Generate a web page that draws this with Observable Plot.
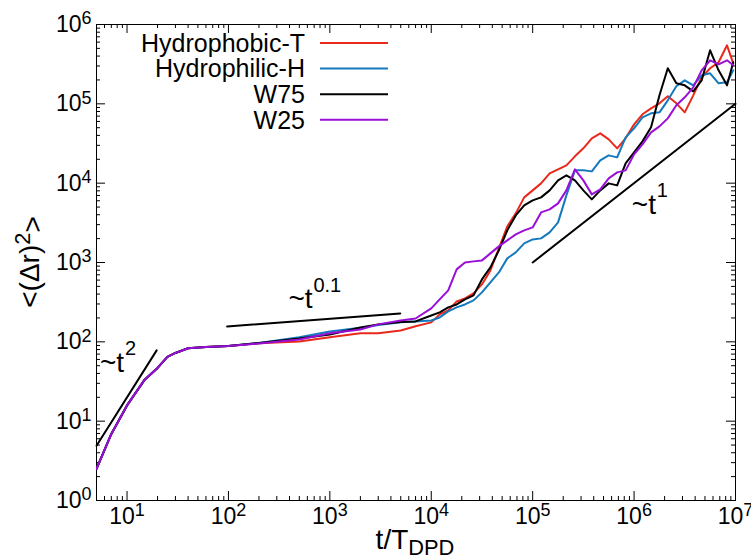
<!DOCTYPE html>
<html><head><meta charset="utf-8">
<script src="https://cdn.jsdelivr.net/npm/d3@7"></script>
<script src="https://cdn.jsdelivr.net/npm/@observablehq/plot@0.6"></script>
<style>
body{margin:0;background:#fff;font-family:"Liberation Sans",Arial,sans-serif;}
#chart{width:751px;height:559px;}
</style></head><body><div id="chart"></div>
<script>
// time values t/T_DPD
const time = [5, 7, 10, 15, 20, 25, 30, 40, 60, 100, 200, 500, 1000, 2000, 3000, 5000, 7000,
  10000, 12100, 14700, 17800, 21500, 26100, 31600, 38300, 46400, 56200, 68100, 82500,
  100000, 121000, 147000, 178000, 215000, 261000, 316000, 383000, 464000, 562000, 681000, 825000,
  1000000, 1210000, 1470000, 1780000, 2150000, 2610000, 3160000, 3830000, 4640000, 5620000, 6810000, 8250000, 9500000];

const hydrophobicT = [2.5, 6.9, 15.8, 33.6, 46.9, 64.5, 72.4, 83, 86, 88.8, 96, 101, 114, 128, 128, 139, 157,
  176, 222, 249, 323, 352, 408, 529, 795, 1507, 2851, 4160, 6620,
  8110, 9940, 13300, 14930, 16770, 21780, 27480, 36730, 42460, 35660, 27480, 36730,
  55100, 73800, 87800, 101500, 124400, 101500, 78100, 128000, 215900, 280500, 333700, 546600, 324200];

const hydrophilicH = [2.5, 6.9, 15.8, 33.6, 46.9, 64.5, 72.4, 83, 86, 88.8, 97, 114, 135, 150, 163, 176, 181,
  186, 203, 242, 272, 296, 333, 420, 561, 750, 1127, 1341, 1741,
  1955, 2014, 2398, 3205, 7020, 14500, 14500, 14080, 19400, 22420, 21150, 37770,
  49100, 67600, 75900, 78100, 110700, 166300, 197800, 171100, 228700, 242500, 181300, 186700, 264300];

const w75 = [2.5, 6.9, 15.8, 33.6, 46.9, 64.5, 72.4, 83, 86, 88.8, 97, 110, 124, 152, 166, 178, 181,
  215, 235, 272, 296, 343, 385, 612, 867, 1422, 2540, 3925, 5250,
  6070, 6620, 8110, 10840, 12540, 10840, 8110, 6250, 8110, 9940, 9380, 17780,
  24450, 33650, 50600, 128000, 280500, 181300, 171100, 143800, 197800, 473000, 264300, 171100, 333700];

const w25 = [2.5, 6.9, 15.8, 33.6, 46.9, 64.5, 72.4, 83, 86, 88.8, 95.5, 107, 128, 143, 166, 186, 197,
  264, 343, 445, 819, 1000, 1033, 1063, 1303, 1596, 1900, 2260, 2540,
  2770, 4280, 4670, 5560, 8110, 14930, 10840, 7220, 8350, 11500, 13680, 14500,
  23070, 30850, 43700, 52000, 65600, 95800, 120800, 161400, 264300, 353700, 315000, 353700, 305700];

const seriesNames = ["Hydrophobic-T", "Hydrophilic-H", "W75", "W25"];
const seriesColors = ["#e8291c", "#1479bd", "#000000", "#9a0fd8"];
const seriesValues = [hydrophobicT, hydrophilicH, w75, w25];

// power-law guide segments (start/end)
const guideT = [[5, 19.6], [97, 4940], [100000, 10000000]];
const guideMSD = [[4.9, 78], [156, 228], [1000, 100000]];
const guideExponent = ["2", "0.1", "1"];
const guideLabelT = [5.4, 390, 950000];
const guideLabelMSD = [54, 345, 5300];

const xMajor = [10, 100, 1000, 10000, 100000, 1000000, 10000000];
const xTickLabels = ["10^1", "10^2", "10^3", "10^4", "10^5", "10^6", "10^7"];
const yMajor = [1, 10, 100, 1000, 10000, 100000, 1000000];
const yTickLabels = ["10^0", "10^1", "10^2", "10^3", "10^4", "10^5", "10^6"];

// minor log ticks
const xMinor = [], yMinor = [];
for (let e = 0; e <= 6; e++) for (let m = 2; m <= 9; m++) {
  const v = m * Math.pow(10, e);
  if (v >= 5 && v <= 1e7) xMinor.push(v);
  if (e <= 5) yMinor.push(v);
}

const rows = [];
seriesNames.forEach((name, i) => {
  time.forEach((t, j) => rows.push({t, msd: seriesValues[i][j], series: name}));
});
const guides = [];
guideT.forEach((ts, i) => {
  guides.push({t: ts[0], msd: guideMSD[i][0], g: i});
  guides.push({t: ts[1], msd: guideMSD[i][1], g: i});
});
const guideLabels = guideExponent.map((e, i) => ({t: guideLabelT[i], msd: guideLabelMSD[i], e}));

const W = 751, H = 559, mL = 96, mR = 16, mT = 24, mB = 59;
const pw = W - mL - mR, ph = H - mT - mB;

const plot = Plot.plot({
  width: W, height: H,
  marginLeft: mL, marginRight: mR, marginTop: mT, marginBottom: mB,
  style: {fontFamily: "'Liberation Sans', Arial, sans-serif", background: "#fff", color: "#000"},
  x: {type: "log", domain: [5, 1e7]},
  y: {type: "log", domain: [1, 1e6]},
  color: {domain: seriesNames, range: seriesColors},
  marks: [
    Plot.frame({stroke: "#000", strokeWidth: 1}),
    Plot.tickX(xMajor, {x: d => d, stroke: "#000", insetTop: ph - 9}),
    Plot.tickX(xMajor, {x: d => d, stroke: "#000", insetBottom: ph - 9}),
    Plot.tickX(xMinor, {x: d => d, stroke: "#000", insetTop: ph - 4}),
    Plot.tickX(xMinor, {x: d => d, stroke: "#000", insetBottom: ph - 4}),
    Plot.tickY(yMajor, {y: d => d, stroke: "#000", insetRight: pw - 9}),
    Plot.tickY(yMajor, {y: d => d, stroke: "#000", insetLeft: pw - 9}),
    Plot.tickY(yMinor, {y: d => d, stroke: "#000", insetRight: pw - 4}),
    Plot.tickY(yMinor, {y: d => d, stroke: "#000", insetLeft: pw - 4}),
    Plot.axisX({ticks: xMajor, tickSize: 0, tickPadding: 7, fontSize: 23, label: null,
      tickFormat: d => xTickLabels[xMajor.indexOf(d)]}),
    Plot.axisY({ticks: yMajor, tickSize: 0, tickPadding: 5, fontSize: 23, label: null,
      tickFormat: d => yTickLabels[yMajor.indexOf(d)]}),
    Plot.line(rows, {x: "t", y: "msd", z: "series", stroke: "series", strokeWidth: 2, curve: "linear", clip: true}),
    Plot.line(guides, {x: "t", y: "msd", z: "g", stroke: "#000", strokeWidth: 2}),
    Plot.text(guideLabels, {x: "t", y: "msd", text: () => "~t", textAnchor: "start", fontSize: 28, fill: "#000"}),
    Plot.text(guideLabels, {x: "t", y: "msd", text: "e", textAnchor: "start", fontSize: 20, dx: 25, dy: -14, fill: "#000"})
  ]
});

document.getElementById("chart").appendChild(plot);
const svg = d3.select(plot);

// superscript tick labels
svg.selectAll('[aria-label="x-axis tick label"] text, [aria-label="y-axis tick label"] text').each(function () {
  const s = this.textContent;
  if (!s.includes("^")) return;
  const [b, e] = s.split("^");
  const el = d3.select(this);
  el.text(null);
  el.append("tspan").text(b);
  el.append("tspan").attr("dy", "-0.42em").attr("font-size", "0.78em").text(e);
});

// axis titles
const xt = svg.append("text").attr("x", 415).attr("y", 549).attr("text-anchor", "middle")
  .attr("font-size", 28).attr("fill", "#000");
xt.append("tspan").text("t/T");
xt.append("tspan").attr("dy", "0.28em").attr("font-size", "0.78em").text("DPD");

const yt = svg.append("text").attr("transform", "translate(39,262) rotate(-90)").attr("text-anchor", "middle")
  .attr("font-size", 28).attr("fill", "#000");
yt.append("tspan").text("<(Δr)");
yt.append("tspan").attr("dy", "-0.42em").attr("font-size", "0.78em").text("2");
yt.append("tspan").attr("dy", "0.42em").text(">");

// legend
const lg = svg.append("g").attr("font-size", 25).attr("fill", "#000");
seriesNames.forEach((name, i) => {
  const y = 43 + i * 25.6;
  lg.append("text").attr("x", 305).attr("y", y).attr("text-anchor", "end").attr("dy", "0.35em").text(name);
  lg.append("line").attr("x1", 320).attr("x2", 388).attr("y1", y).attr("y2", y)
    .attr("stroke", seriesColors[i]).attr("stroke-width", 2);
});
</script></body></html>
